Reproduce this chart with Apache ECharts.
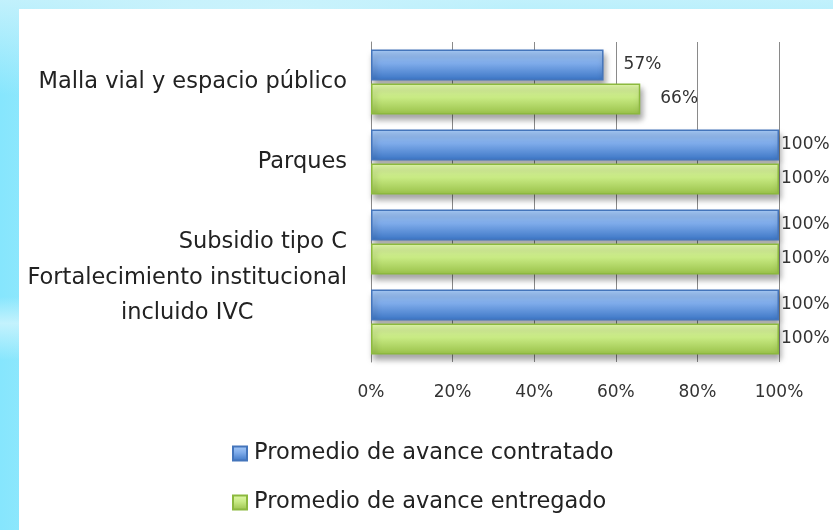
<!DOCTYPE html>
<html>
<head>
<meta charset="utf-8">
<script src="https://cdn.jsdelivr.net/npm/echarts@6/dist/echarts.min.js"></script>
<style>
  html, body { margin: 0; padding: 0; }
  body {
    width: 833px; height: 530px; overflow: hidden; position: relative;
    background:
      linear-gradient(180deg, rgba(200,242,252,0.9) 0%, rgba(200,242,252,0) 18%, rgba(200,242,252,0) 56%, rgba(210,245,253,0.8) 61%, rgba(200,242,252,0) 68%),
      linear-gradient(90deg, #86e6fd 0%, #9fe9fb 10%, #c6f1fc 22%, #d2f4fd 35%, #a4ebfc 50%, #80e5fd 62%, #86e6fd 100%);
  }
  #chart { position: absolute; left: 19px; top: 9px; width: 814px; height: 521px; background: #fff; }
</style>
</head>
<body>
<div id="chart"></div>
<script>
var categories = ["Malla vial y espacio público", "Parques", "Subsidio tipo C", "Fortalecimiento institucional\nincluido IVC"];
var contratado = [57, 100, 100, 100];
var entregado = [66, 100, 100, 100];
var xTicks = [0, 20, 40, 60, 80, 100];
var seriesNames = ["Promedio de avance contratado", "Promedio de avance entregado"];

var chart = echarts.init(document.getElementById("chart"));
var font = "'DejaVu Sans', sans-serif";

function withLabels(values) {
  // Excel pushed the short-bar labels further out
  return values.map(function (v) {
    return { value: v, label: { distance: v < 100 ? 20 : 2 } };
  });
}

var blueFill = new echarts.graphic.LinearGradient(0, 0, 0, 1, [
  { offset: 0, color: "#a9ccf8" },
  { offset: 0.45, color: "#7eabea" },
  { offset: 1, color: "#3a74c4" }
]);
var greenFill = new echarts.graphic.LinearGradient(0, 0, 0, 1, [
  { offset: 0, color: "#e2f9ab" },
  { offset: 0.45, color: "#c8ea83" },
  { offset: 1, color: "#98c048" }
]);

var option = {
  animation: false,
  grid: { left: 352, right: 54, top: 33, bottom: 168 },
  xAxis: {
    type: "value",
    min: 0,
    max: 100,
    interval: 20,
    axisLine: { show: false },
    axisTick: { show: false },
    splitLine: { show: true, lineStyle: { color: "#8a8a8a", width: 1 } },
    axisLabel: {
      margin: 22,
      color: "#333",
      fontSize: 17,
      fontFamily: font,
      formatter: function (v) { return xTicks.indexOf(v) >= 0 ? v + "%" : ""; }
    }
  },
  yAxis: {
    type: "category",
    inverse: true,
    data: categories,
    axisLine: { show: true, lineStyle: { color: "#8a8a8a", width: 1 } },
    axisTick: { show: false },
    axisLabel: {
      margin: 24,
      color: "#222",
      fontSize: 22.5,
      fontFamily: font,
      formatter: function (v) {
        if (v.indexOf("\n") < 0) return v;
        return v.split("\n").map(function (s) { return "{c|" + s + "}"; }).join("\n") + "\n{s| }";
      },
      rich: {
        c: { align: "center", fontSize: 22.5, fontFamily: font, color: "#222", lineHeight: 35 },
        s: { height: 52, fontSize: 1 }
      }
    }
  },
  legend: {
    orient: "vertical",
    left: 208,
    top: 428,
    itemGap: 26,
    itemWidth: 14,
    itemHeight: 14,
    icon: "rect",
    textStyle: { fontSize: 22.5, color: "#222", fontFamily: font, padding: [0, 0, 0, 2] },
    data: seriesNames
  },
  series: [
    {
      name: seriesNames[0],
      type: "bar",
      barWidth: 31,
      barGap: "10%",
      data: withLabels(contratado),
      itemStyle: {
        color: blueFill,
        borderColor: "#4475bb",
        borderWidth: 1.5,
        shadowColor: "rgba(0,0,0,0.35)",
        shadowBlur: 6,
        shadowOffsetX: 2,
        shadowOffsetY: 5
      },
      label: {
        show: true,
        position: "right",
        color: "#333",
        fontSize: 17,
        fontFamily: font,
        formatter: "{c}%"
      }
    },
    {
      name: seriesNames[1],
      type: "bar",
      barWidth: 31,
      data: withLabels(entregado),
      itemStyle: {
        color: greenFill,
        borderColor: "#8cb93e",
        borderWidth: 1.5,
        shadowColor: "rgba(0,0,0,0.35)",
        shadowBlur: 6,
        shadowOffsetX: 2,
        shadowOffsetY: 5
      },
      label: {
        show: true,
        position: "right",
        color: "#333",
        fontSize: 17,
        fontFamily: font,
        formatter: "{c}%"
      }
    }
  ]
};

chart.setOption(option);
</script>
</body>
</html>
